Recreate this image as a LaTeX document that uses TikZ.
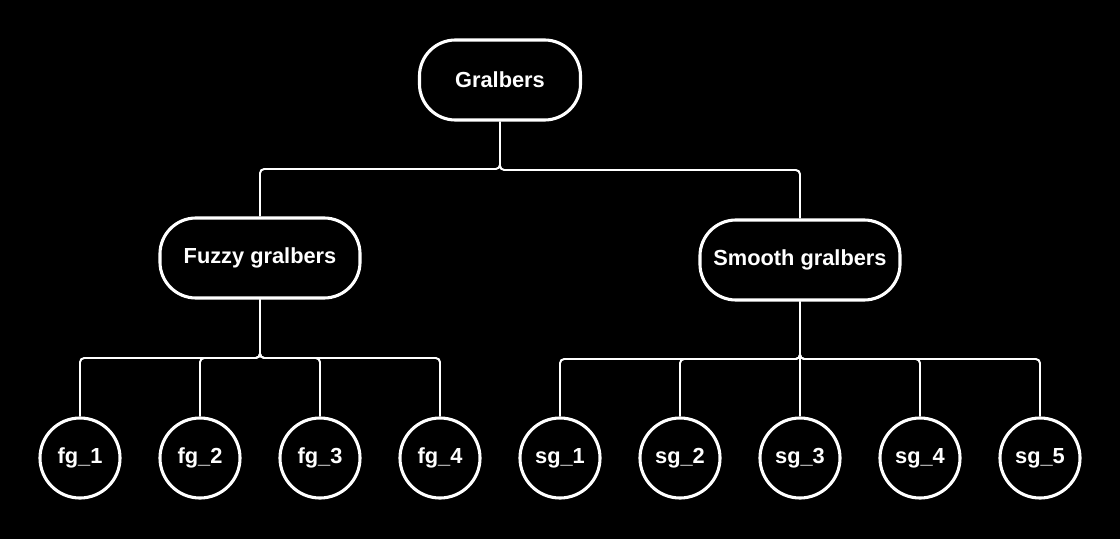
\documentclass[tikz,border=0pt]{standalone}
\usepackage{fontspec}
\setmainfont{Liberation Sans}
\usetikzlibrary{calc}

\begin{document}
\begin{tikzpicture}[
     x = 0.025cm, y = -0.025cm,
     every node/.style = {
     	draw, white, line width = 2.2pt, text = white,
     	font = \fontsize{15.5}{18}\selectfont\bfseries},
     group/.style = {rounded corners = 0.9cm, minimum height = 2cm},
     leaf/.style = {circle, minimum size = 2cm, inner sep = 0pt},
     conn/.style = {white, line width = 1.4pt, rounded corners = 3pt}
     ]

       \fill[black] (0,0) rectangle (1120,539);

       \node[group, minimum width = 4.025cm] (G) at (500,80) {Gralbers}; % root
       \node[group, minimum width = 5cm] (FG) at (260,258) {Fuzzy gralbers};
       \node[group, minimum width = 5cm] (SG) at (800,260) {Smooth gralbers};
       \node[leaf] (fg1) at (80,458) {fg\_1};
       \node[leaf] (fg2) at (200,458) {fg\_2};
       \node[leaf] (fg3) at (320,458) {fg\_3};
       \node[leaf] (fg4) at (440,458) {fg\_4};
       \node[leaf] (sg1) at (560,458) {sg\_1};
       \node[leaf] (sg2) at (680,458) {sg\_2};
       \node[leaf] (sg3) at (800,458) {sg\_3};
       \node[leaf] (sg4) at (920,458) {sg\_4};
       \node[leaf] (sg5) at (1040,458) {sg\_5};

       \draw[conn] (G.south) |- ($(G.south)!.5!(FG.north)$) -| (FG.north);
       \draw[conn] (G.south) |- ($(G.south)!.5!(SG.north)$) -| (SG.north);
       \draw[conn] (FG.south) |- ($(FG.south)!.5!(fg1.north)$) -| (fg1.north);
       \draw[conn] (FG.south) |- ($(FG.south)!.5!(fg2.north)$) -| (fg2.north);
       \draw[conn] (FG.south) |- ($(FG.south)!.5!(fg3.north)$) -| (fg3.north);
       \draw[conn] (FG.south) |- ($(FG.south)!.5!(fg4.north)$) -| (fg4.north);
       \draw[conn] (SG.south) |- ($(SG.south)!.5!(sg1.north)$) -| (sg1.north);
       \draw[conn] (SG.south) |- ($(SG.south)!.5!(sg2.north)$) -| (sg2.north);
       \draw[conn] (SG.south) -- (sg3.north);
       \draw[conn] (SG.south) |- ($(SG.south)!.5!(sg4.north)$) -| (sg4.north);
       \draw[conn] (SG.south) |- ($(SG.south)!.5!(sg5.north)$) -| (sg5.north);

      \end{tikzpicture}
\end{document}
